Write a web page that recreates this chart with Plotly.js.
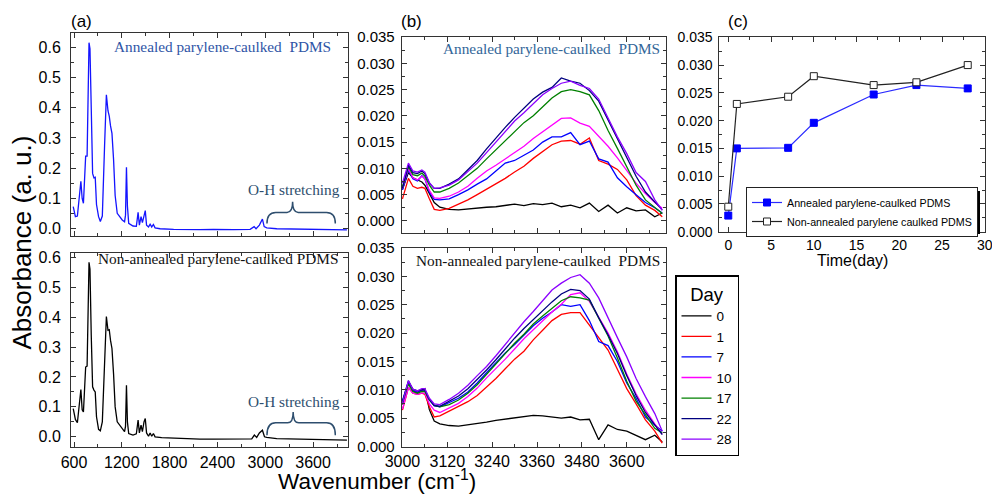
<!DOCTYPE html>
<html>
<head>
<meta charset="utf-8">
<script src="https://cdn.plot.ly/plotly-3.0.1.min.js"></script>
<style>html,body{margin:0;padding:0;background:#fff;}#chart{width:992px;height:495px;}</style>
</head>
<body>
<div id="chart"></div>
<script>
// ---------- DATA ----------
// (a) full spectra
const waveAnn = [590, 617, 642, 663, 686, 702, 718, 746, 764, 788, 800, 816, 833, 850, 866, 882, 908, 930, 955, 984, 1006, 1026, 1042, 1058, 1076, 1096, 1116, 1142, 1172, 1205, 1234, 1246, 1258, 1270, 1286, 1340, 1382, 1404, 1420, 1441, 1458, 1478, 1494, 1510, 1535, 1555, 1575, 1596, 1617, 1680, 1850, 2180, 2350, 2600, 2810, 2860, 2884, 2926, 2964, 2986, 3018, 3144, 3437, 4025];
const absAnn = [0.073, 0.040, 0.042, 0.095, 0.157, 0.100, 0.084, 0.240, 0.240, 0.615, 0.595, 0.400, 0.183, 0.168, 0.170, 0.080, 0.040, 0.024, 0.042, 0.280, 0.443, 0.390, 0.372, 0.340, 0.315, 0.230, 0.110, 0.051, 0.040, 0.029, 0.023, 0.045, 0.203, 0.075, 0.018, 0.009, 0.008, 0.054, 0.012, 0.040, 0.020, 0.045, 0.060, 0.012, 0.006, 0.015, 0.006, 0.014, 0.003, 0.000, -0.002, -0.003, -0.002, -0.003, -0.002, 0.007, 0.000, 0.012, 0.032, 0.007, 0.003, 0.000, -0.002, -0.004];
const waveNon = [590, 617, 642, 663, 686, 702, 718, 746, 764, 788, 800, 816, 833, 850, 866, 882, 908, 930, 955, 984, 1006, 1026, 1042, 1058, 1076, 1096, 1116, 1142, 1172, 1205, 1234, 1246, 1258, 1270, 1286, 1340, 1382, 1404, 1420, 1441, 1458, 1478, 1494, 1510, 1535, 1555, 1575, 1596, 1617, 1700, 1850, 2180, 2350, 2600, 2830, 2863, 2892, 2926, 2964, 2990, 3018, 3144, 3437, 4025];
const absNon = [0.094, 0.058, 0.047, 0.094, 0.158, 0.090, 0.083, 0.233, 0.236, 0.583, 0.560, 0.340, 0.167, 0.156, 0.150, 0.067, 0.025, 0.020, 0.050, 0.250, 0.402, 0.356, 0.358, 0.322, 0.295, 0.211, 0.100, 0.050, 0.039, 0.028, 0.017, 0.035, 0.172, 0.050, 0.011, 0.006, 0.010, 0.056, 0.013, 0.039, 0.017, 0.050, 0.061, 0.013, 0.002, 0.013, 0.002, 0.011, 0.000, -0.003, -0.005, -0.008, -0.008, -0.008, -0.007, 0.006, -0.002, 0.013, 0.022, 0.000, -0.002, -0.006, -0.007, -0.011];

// (b) O-H region
const waveB = [3000, 3008, 3016, 3028, 3040, 3052, 3060, 3072, 3085, 3100, 3125, 3150, 3175, 3200, 3225, 3250, 3275, 3300, 3325, 3350, 3375, 3400, 3425, 3450, 3475, 3500, 3525, 3550, 3575, 3600, 3625, 3650, 3675, 3695];
const days = ['0', '1', '7', '10', '17', '22', '28'];
const dayColors = ['#000000', '#ff0000', '#0000ff', '#ff00ff', '#008000', '#000080', '#8b00ff'];
const annDay0  = [0.0060, 0.0075, 0.0092, 0.0082, 0.0078, 0.0074, 0.0068, 0.0052, 0.0035, 0.0026, 0.0022, 0.0021, 0.0023, 0.0025, 0.0026, 0.0027, 0.0030, 0.0032, 0.0029, 0.0033, 0.0031, 0.0034, 0.0027, 0.0030, 0.0025, 0.0034, 0.0018, 0.0030, 0.0015, 0.0025, 0.0019, 0.0021, 0.0008, 0.0015];
const annDay1  = [0.0042, 0.0062, 0.0081, 0.0066, 0.0062, 0.0064, 0.0062, 0.0042, 0.0022, 0.0020, 0.0024, 0.0032, 0.0040, 0.0050, 0.0060, 0.0071, 0.0081, 0.0093, 0.0104, 0.0119, 0.0132, 0.0145, 0.0152, 0.0153, 0.0146, 0.0158, 0.0115, 0.0108, 0.0098, 0.0078, 0.0048, 0.0030, 0.0020, 0.0008];
const annDay7  = [0.0059, 0.0078, 0.0097, 0.0080, 0.0076, 0.0086, 0.0080, 0.0055, 0.0041, 0.0040, 0.0042, 0.0050, 0.0059, 0.0070, 0.0080, 0.0095, 0.0110, 0.0115, 0.0125, 0.0135, 0.0150, 0.0160, 0.0160, 0.0168, 0.0145, 0.0152, 0.0118, 0.0112, 0.0082, 0.0065, 0.0050, 0.0035, 0.0025, 0.0015];
const annDay10 = [0.0062, 0.0082, 0.0100, 0.0082, 0.0078, 0.0085, 0.0080, 0.0058, 0.0044, 0.0043, 0.0047, 0.0055, 0.0066, 0.0081, 0.0095, 0.0106, 0.0118, 0.0130, 0.0142, 0.0157, 0.0170, 0.0182, 0.0195, 0.0196, 0.0186, 0.0180, 0.0162, 0.0142, 0.0120, 0.0097, 0.0072, 0.0052, 0.0035, 0.0024];
const annDay17 = [0.0065, 0.0085, 0.0103, 0.0088, 0.0086, 0.0091, 0.0085, 0.0068, 0.0055, 0.0055, 0.0062, 0.0072, 0.0086, 0.0100, 0.0118, 0.0135, 0.0152, 0.0170, 0.0187, 0.0200, 0.0218, 0.0234, 0.0246, 0.0250, 0.0246, 0.0240, 0.0210, 0.0172, 0.0138, 0.0102, 0.0068, 0.0040, 0.0025, 0.0014];
const annDay22 = [0.0062, 0.0085, 0.0106, 0.0092, 0.0090, 0.0095, 0.0090, 0.0072, 0.0062, 0.0062, 0.0070, 0.0080, 0.0098, 0.0115, 0.0137, 0.0158, 0.0178, 0.0197, 0.0214, 0.0232, 0.0245, 0.0254, 0.0272, 0.0266, 0.0262, 0.0248, 0.0228, 0.0192, 0.0158, 0.0120, 0.0085, 0.0055, 0.0035, 0.0021];
const annDay28 = [0.0072, 0.0090, 0.0110, 0.0095, 0.0093, 0.0097, 0.0093, 0.0073, 0.0062, 0.0063, 0.0068, 0.0078, 0.0094, 0.0110, 0.0130, 0.0150, 0.0170, 0.0190, 0.0206, 0.0224, 0.0240, 0.0252, 0.0262, 0.0266, 0.0258, 0.0252, 0.0232, 0.0196, 0.0160, 0.0128, 0.0092, 0.0075, 0.0040, 0.0020];
const nonDay0  = [0.0074, 0.0095, 0.0113, 0.0098, 0.0095, 0.0100, 0.0102, 0.0065, 0.0045, 0.0040, 0.0037, 0.0036, 0.0038, 0.0040, 0.0043, 0.0046, 0.0048, 0.0050, 0.0053, 0.0055, 0.0054, 0.0052, 0.0050, 0.0052, 0.0047, 0.0048, 0.0012, 0.0038, 0.0030, 0.0027, 0.0020, 0.0012, 0.0020, 0.0008];
const nonDay1  = [0.0064, 0.0085, 0.0104, 0.0094, 0.0092, 0.0094, 0.0092, 0.0070, 0.0052, 0.0054, 0.0062, 0.0070, 0.0079, 0.0090, 0.0105, 0.0120, 0.0137, 0.0154, 0.0168, 0.0188, 0.0205, 0.0222, 0.0233, 0.0236, 0.0236, 0.0215, 0.0192, 0.0170, 0.0135, 0.0102, 0.0075, 0.0047, 0.0027, 0.0006];
const nonDay7  = [0.0080, 0.0098, 0.0113, 0.0099, 0.0096, 0.0098, 0.0098, 0.0082, 0.0072, 0.0070, 0.0078, 0.0085, 0.0096, 0.0112, 0.0130, 0.0148, 0.0165, 0.0180, 0.0196, 0.0213, 0.0226, 0.0237, 0.0250, 0.0247, 0.0250, 0.0222, 0.0185, 0.0178, 0.0150, 0.0112, 0.0085, 0.0052, 0.0038, 0.0027];
const nonDay10 = [0.0066, 0.0085, 0.0104, 0.0094, 0.0092, 0.0094, 0.0094, 0.0075, 0.0064, 0.0060, 0.0068, 0.0076, 0.0088, 0.0103, 0.0121, 0.0137, 0.0154, 0.0172, 0.0190, 0.0206, 0.0222, 0.0237, 0.0251, 0.0268, 0.0271, 0.0256, 0.0228, 0.0200, 0.0167, 0.0128, 0.0093, 0.0064, 0.0040, 0.0022];
const nonDay17 = [0.0078, 0.0095, 0.0110, 0.0097, 0.0094, 0.0097, 0.0097, 0.0082, 0.0073, 0.0070, 0.0074, 0.0082, 0.0094, 0.0109, 0.0127, 0.0145, 0.0164, 0.0182, 0.0198, 0.0216, 0.0230, 0.0243, 0.0257, 0.0264, 0.0262, 0.0258, 0.0226, 0.0195, 0.0156, 0.0115, 0.0080, 0.0055, 0.0032, 0.0024];
const nonDay22 = [0.0080, 0.0098, 0.0116, 0.0101, 0.0098, 0.0100, 0.0100, 0.0083, 0.0072, 0.0071, 0.0080, 0.0089, 0.0102, 0.0118, 0.0135, 0.0153, 0.0173, 0.0191, 0.0208, 0.0224, 0.0240, 0.0255, 0.0269, 0.0277, 0.0275, 0.0260, 0.0227, 0.0197, 0.0164, 0.0125, 0.0090, 0.0060, 0.0038, 0.0021];
const nonDay28 = [0.0076, 0.0098, 0.0116, 0.0101, 0.0098, 0.0102, 0.0102, 0.0085, 0.0075, 0.0074, 0.0083, 0.0094, 0.0108, 0.0125, 0.0141, 0.0160, 0.0180, 0.0200, 0.0220, 0.0238, 0.0258, 0.0276, 0.0288, 0.0298, 0.0303, 0.0288, 0.0262, 0.0226, 0.0192, 0.0158, 0.0120, 0.0088, 0.0058, 0.0027];
const annSeries = [annDay0, annDay1, annDay7, annDay10, annDay17, annDay22, annDay28];
const nonSeries = [nonDay0, nonDay1, nonDay7, nonDay10, nonDay17, nonDay22, nonDay28];

// (c) peak absorbance vs time
const timeDays = [0, 1, 7, 10, 17, 22, 28];
const peakAnnealed = [0.0029, 0.0150, 0.0151, 0.0196, 0.0247, 0.0264, 0.0258];
const peakNonAnnealed = [0.0045, 0.0230, 0.0243, 0.0280, 0.0264, 0.0269, 0.0300];

// ---------- FIGURE ----------
const W = 992, H = 495;
const dx = (a, b) => [a / W, b / W];
const dy = (t, b) => [1 - b / H, 1 - t / H];
const sans = 'Liberation Sans, Arial, sans-serif';
const serif = 'Liberation Serif, Times New Roman, serif';

function ax(o) {
  return Object.assign({
    showline: true, linecolor: '#333', linewidth: 1, mirror: 'allticks',
    ticks: 'inside', ticklen: 5, tickwidth: 1, tickcolor: '#333',
    showgrid: false, zeroline: false, fixedrange: true,
    tickfont: {family: sans, size: 16, color: '#000'}
  }, o);
}
const minor = d => ({dtick: d, ticks: 'inside', ticklen: 3, tickwidth: 1, tickcolor: '#333'});

const traces = [];
traces.push({x: waveAnn, y: absAnn, xaxis: 'x', yaxis: 'y', type: 'scatter', mode: 'lines',
  line: {color: '#1414ff', width: 1.3}, showlegend: false, hoverinfo: 'skip'});
traces.push({x: waveNon, y: absNon, xaxis: 'x2', yaxis: 'y2', type: 'scatter', mode: 'lines',
  line: {color: '#000', width: 1.3}, showlegend: false, hoverinfo: 'skip'});
annSeries.forEach((s, i) => traces.push({x: waveB, y: s, xaxis: 'x3', yaxis: 'y3', type: 'scatter', mode: 'lines',
  name: days[i], line: {color: dayColors[i], width: 1.3}, showlegend: true, legend: 'legend', hoverinfo: 'skip'}));
nonSeries.forEach((s, i) => traces.push({x: waveB, y: s, xaxis: 'x4', yaxis: 'y4', type: 'scatter', mode: 'lines',
  name: days[i], line: {color: dayColors[i], width: 1.3}, showlegend: false, hoverinfo: 'skip'}));
traces.push({x: timeDays, y: peakAnnealed, xaxis: 'x5', yaxis: 'y5', type: 'scatter', mode: 'lines+markers',
  name: 'Annealed parylene-caulked PDMS', line: {color: '#2b2bff', width: 1.2},
  marker: {symbol: 'square', size: 7, color: '#0000ff', line: {color: '#0000ff', width: 1}}, legend: 'legend2', hoverinfo: 'skip'});
traces.push({x: timeDays, y: peakNonAnnealed, xaxis: 'x5', yaxis: 'y5', type: 'scatter', mode: 'lines+markers',
  name: 'Non-annealed parylene caulked PDMS', line: {color: '#222', width: 1.2},
  marker: {symbol: 'square', size: 7, color: '#fff', line: {color: '#222', width: 1}}, legend: 'legend2', hoverinfo: 'skip'});

const braceColor = '#2e4e6e';
function brace(xr, yr, x0, xt, x1, yb, ys, yt) {
  return {type: 'path', xref: xr, yref: yr, line: {color: braceColor, width: 1.5},
    path: `M${x0},${yb} Q${x0},${ys} ${x0 + 110},${ys} L${xt - 70},${ys} Q${xt},${ys} ${xt},${yt} Q${xt},${ys} ${xt + 70},${ys} L${x1 - 110},${ys} Q${x1},${ys} ${x1},${yb}`};
}

function note(text, px, py, size, color, family, extra) {
  return Object.assign({text: text, x: px / W, y: 1 - py / H, xref: 'paper', yref: 'paper', showarrow: false,
    xanchor: 'center', yanchor: 'middle', font: {family: family || sans, size: size, color: color || '#000'}}, extra || {});
}

const layout = {
  width: W, height: H, margin: {l: 0, r: 0, t: 0, b: 0}, autosize: false,
  paper_bgcolor: '#fff', plot_bgcolor: 'rgba(0,0,0,0)',
  font: {family: sans, color: '#000'},
  showlegend: true,
  xaxis: ax({domain: dx(71, 348), anchor: 'y', range: [562, 4038], tick0: 0, dtick: 600, showticklabels: false, minor: minor(300)}),
  yaxis: ax({domain: dy(33, 236), anchor: 'x', range: [-0.024, 0.647], dtick: 0.1, tickformat: '.1f', ticklabelstandoff: 6, minor: minor(0.05)}),
  xaxis2: ax({domain: dx(71, 348), anchor: 'y2', range: [562, 4038], tick0: 0, dtick: 600, minor: minor(300)}),
  yaxis2: ax({domain: dy(252.7, 447.3), anchor: 'x2', range: [-0.035, 0.615], dtick: 0.1, tickformat: '.1f', ticklabelstandoff: 6, minor: minor(0.05)}),
  xaxis3: ax({domain: dx(401.7, 666), anchor: 'y3', range: [2998, 3705], tick0: 3000, dtick: 120, showticklabels: false, minor: minor(60)}),
  yaxis3: ax({domain: dy(37, 233), anchor: 'x3', range: [-0.0023, 0.035], dtick: 0.005, tickformat: '.3f', ticklabelstandoff: 3,
    tickfont: {family: sans, size: 15, color: '#000'}, minor: minor(0.0025)}),
  xaxis4: ax({domain: dx(401.7, 666), anchor: 'y4', range: [2998, 3705], tick0: 3000, dtick: 120, minor: minor(60)}),
  yaxis4: ax({domain: dy(248, 446.5), anchor: 'x4', range: [0, 0.035], dtick: 0.005, tickformat: '.3f', ticklabelstandoff: 3,
    tickfont: {family: sans, size: 15, color: '#000'}, minor: minor(0.0025)}),
  xaxis5: ax({domain: dx(719.3, 985), anchor: 'y5', range: [-1.05, 30.02], dtick: 5, ticklabeloverflow: 'allow',
    tickfont: {family: sans, size: 14, color: '#000'}, minor: minor(2.5)}),
  yaxis5: ax({domain: dy(37.3, 231.7), anchor: 'x5', range: [0, 0.035], dtick: 0.005, tickformat: '.3f', ticklabelstandoff: 3,
    tickfont: {family: sans, size: 14, color: '#000'}, minor: minor(0.0025)}),
  legend: {x: 675 / W, y: 1 - 275 / H, xanchor: 'left', yanchor: 'top', bgcolor: '#fff', bordercolor: '#000', borderwidth: 1.5,
    font: {family: sans, size: 13.5, color: '#000'}, title: {text: 'Day', side: 'top center', font: {family: sans, size: 18.5}},
    tracegroupgap: 0, itemwidth: 30},
  legend2: {x: 746 / W, y: 1 - 187 / H, xanchor: 'left', yanchor: 'top', bgcolor: '#fff', bordercolor: '#222', borderwidth: 1,
    font: {family: sans, size: 10.7, color: '#000'}, tracegroupgap: 0, itemwidth: 30},
  shapes: [
    {type: 'rect', xref: 'paper', yref: 'paper', x0: 750 / W, x1: 980 / W, y0: 1 - 234 / H, y1: 1 - 191 / H,
      fillcolor: '#000', line: {width: 0}, layer: 'above'},
    brace('x', 'y', 3021, 3343, 3879, 0.0177, 0.054, 0.0894),
    brace('x2', 'y2', 3021, 3350, 3879, 0.0056, 0.0467, 0.0833)
  ],
  annotations: [
    note('(a)', 81.3, 22, 17),
    note('(b)', 411.7, 22, 17),
    note('(c)', 737.5, 21, 17),
    note('Absorbance (a. u.)', 22, 242.5, 26, '#000', sans, {textangle: -90}),
    note('Wavenumber (cm<sup>-1</sup>)', 377, 480, 22.5),
    note('Time(day)', 852.7, 260, 16),
    note('Annealed parylene-caulked\u00a0 PDMS', 222.5, 47, 15.3, '#2f55a6', serif),
    note('Non-annealed parylene-caulked PDMS', 217.5, 258, 15.3, '#111', serif),
    note('Annealed parylene-caulked\u00a0 PDMS', 551.3, 49, 15.3, '#336699', serif),
    note('Non-annealed parylene-caulked\u00a0 PDMS', 537.5, 260, 15.3, '#111', serif),
    note('O-H stretching', 294, 189, 15.3, braceColor, serif),
    note('O-H stretching', 294, 401, 15.3, braceColor, serif)
  ]
};

Plotly.newPlot('chart', traces, layout, {staticPlot: true, displayModeBar: false});
</script>
</body>
</html>
